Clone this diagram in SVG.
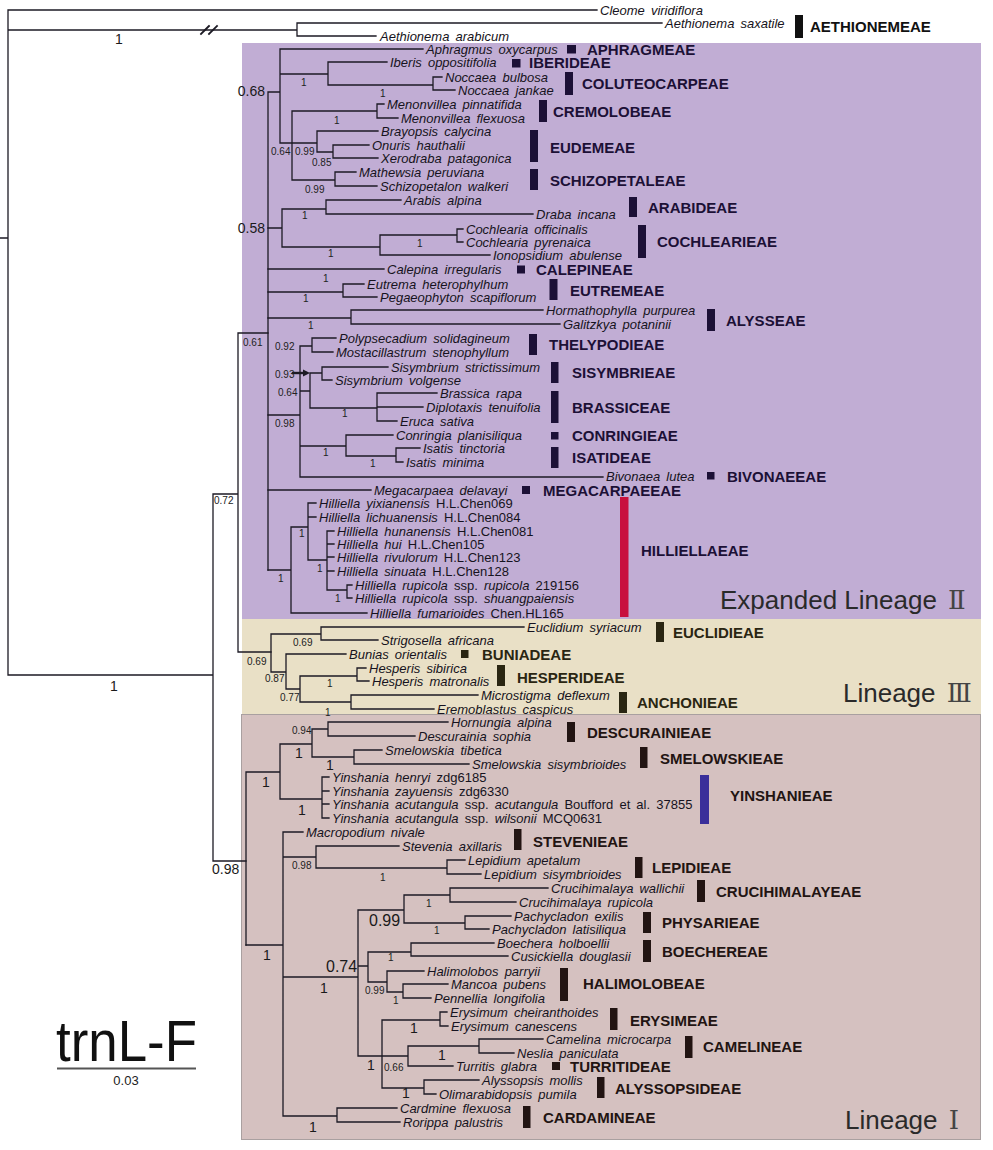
<svg xmlns="http://www.w3.org/2000/svg" width="993" height="1150" viewBox="0 0 993 1150">
<style>
.c{fill:none;stroke:#1c1a24;stroke-width:1.3;stroke-linecap:square}
.t{font-family:"Liberation Sans",Arial,sans-serif;font-size:13px;font-style:italic;word-spacing:2.5px;fill:#161320}
.n{font-style:normal}
.tb{font-family:"Liberation Sans",Arial,sans-serif;font-size:15px;font-weight:bold}
.k0{fill:#111}
.k2{fill:#1c1036}
.k3{fill:#2a2612}
.k1{fill:#221412}
.s{font-family:"Liberation Sans",Arial,sans-serif;font-size:10px;fill:#222}
.m{font-family:"Liberation Sans",Arial,sans-serif;font-size:14px;fill:#1a1a1a}
.g{font-family:"Liberation Sans",Arial,sans-serif;font-size:16px;fill:#1a1a1a}
.lin{font-family:"Liberation Sans",Arial,sans-serif;font-size:26px;fill:#2a2a2a}
.rn{font-family:"DejaVu Serif","DejaVu Sans","Noto Sans CJK SC",serif;fill:#444}
</style>
<rect width="993" height="1150" fill="#ffffff"/>
<g id="panels">
<rect x="242" y="43" width="739" height="576" fill="#c1add4"/>
<rect x="242" y="619" width="739" height="95" fill="#e9e0c6"/>
<rect x="241.5" y="714.5" width="739" height="425" fill="#d5c1c0" stroke="#a9a0a0" stroke-width="1"/>
</g>
<g id="connectors" class="c">
<path d="M0 238H8 M8 10V675 M8 10H597 M8 30H297 M297 23V36 M297 23H662 M297 36H376 M8 675H213 M213 494V861 M213 494H238 M238 333V652 M238 333H268 M238 652H271 M213 861H246"/>
<path d="M201 34L209 26 M209 34L217 26" stroke-width="1.8"/>
<path d="M268 92V570 M268 92H280 M280 49V143 M280 49H423 M280 74H328 M328 62V85 M328 62H387 M328 85H433 M433 77V90 M433 77H442 M433 90H455 M280 143H292 M292 111V180 M292 111H377 M377 104V118 M377 104H384 M377 118H398 M292 143H317 M317 131V152 M317 131H378 M317 152H333 M333 145V158 M333 145H369 M333 158H378 M292 180H335 M335 172V186 M335 172H356 M335 186H377"/>
<path d="M268 228H282 M282 209V247 M282 209H326 M326 200V214 M326 200H401 M326 214H533 M282 247H380 M380 235V255 M380 235H457 M457 229V242 M457 229H463 M457 242H463 M380 255H490 M268 269H384 M268 292H343 M343 284V297 M343 284H364 M343 297H377 M268 318H351 M351 310V324 M351 310H543 M351 324H560"/>
<path d="M268 415H300 M300 346V477 M300 346H312 M312 338V352 M312 338H336 M312 352H333 M300 391H310 M310 373V408 M310 373H322 M322 367V380 M322 367H388 M322 380H332 M310 408H377 M377 393V421 M377 393H437 M377 407H423 M377 421H397 M300 446H346 M346 435V456 M346 435H393 M346 456H396 M396 448V462 M396 448H420 M396 462H403 M300 477H603 M268 490H371"/>
<path d="M293 373H304" stroke-width="2.4"/>
<polygon points="303,369.5 310,373 303,376.5" fill="#1c1a24" stroke="none"/>
<path d="M268 570H291 M291 527V613 M291 613H367 M291 527H308 M308 503V560 M308 503H316 M308 517H316 M308 560H327 M327 531V590 M327 531H334 M327 544H334 M327 557H334 M327 571H334 M327 590H347 M347 585V598 M347 585H352 M347 598H352"/>
<path d="M271 634V672 M271 634H321 M321 627V640 M321 627H524 M321 640H378 M271 672H286 M286 654V689 M286 654H346 M286 689H300 M300 676V702 M300 676H357 M357 668V681 M357 668H366 M357 681H369 M300 702H351 M351 695V709 M351 695H478 M351 709H434"/>
<path d="M246 772V945 M246 772H280 M280 744V799 M280 744H312 M312 729V757 M312 729H328 M328 722V736 M328 722H448 M328 736H415 M312 757H354 M354 750V764 M354 750H382 M354 764H469 M280 799H322 M322 777V818 M322 777H329 M322 791H329 M322 804H329 M322 818H329"/>
<path d="M246 945H283 M283 832V1116 M283 832H303 M283 857H316 M316 846V868 M316 846H399 M316 868H447 M447 860V874 M447 860H465 M447 874H481 M283 977H358 M358 910V1056 M358 910H404 M404 895V923 M404 895H450 M450 888V902 M450 888H548 M450 902H516 M404 923H465 M465 916V929 M465 916H511 M465 929H489 M358 966H368 M368 952V982 M368 952H411 M411 943V956 M411 943H494 M411 956H508 M368 982H387 M387 971V992 M387 971H424 M387 992H403 M403 984V998 M403 984H448 M403 998H431 M358 1056H408 M382 1020V1088 M382 1020H440 M440 1012V1026 M440 1012H447 M440 1026H448 M408 1046V1066 M408 1046H479 M479 1039V1053 M479 1039H543 M479 1053H514 M408 1066H453 M382 1088H424 M424 1080V1094 M424 1080H479 M424 1094H436 M283 1116H337 M337 1108V1122 M337 1108H397 M337 1122H400"/>
</g>
<g id="support">
<text class="m" x="115" y="44">1</text>
<text class="m" x="110" y="691">1</text>
<text class="s" x="214" y="504">0.72</text>
<text class="s" x="243" y="346">0.61</text>
<text class="s" x="247" y="665">0.69</text>
<text class="m" x="212" y="874">0.98</text>
<text class="m" x="265" y="96" text-anchor="end">0.68</text>
<text class="m" x="265" y="233" text-anchor="end">0.58</text>
<text class="s" x="301" y="86">1</text>
<text class="s" x="380" y="97">1</text>
<text class="s" x="334" y="124">1</text>
<text class="s" x="271" y="155">0.64</text>
<text class="s" x="295" y="155">0.99</text>
<text class="s" x="312" y="166">0.85</text>
<text class="s" x="305" y="193">0.99</text>
<text class="s" x="302" y="219">1</text>
<text class="s" x="417" y="247">1</text>
<text class="s" x="328" y="257">1</text>
<text class="s" x="323" y="282">1</text>
<text class="s" x="303" y="302">1</text>
<text class="s" x="308" y="329">1</text>
<text class="s" x="275" y="350">0.92</text>
<text class="s" x="275" y="378">0.93</text>
<text class="s" x="278" y="396">0.64</text>
<text class="s" x="342" y="417">1</text>
<text class="s" x="275" y="427">0.98</text>
<text class="s" x="323" y="456">1</text>
<text class="s" x="370" y="467">1</text>
<text class="s" x="299" y="537">1</text>
<text class="s" x="317" y="572">1</text>
<text class="s" x="278" y="582">1</text>
<text class="s" x="335" y="602">1</text>
<text class="s" x="293" y="646">0.69</text>
<text class="s" x="265" y="682">0.87</text>
<text class="s" x="280" y="701">0.77</text>
<text class="s" x="327" y="687">1</text>
<text class="s" x="325" y="716">1</text>
<text class="s" x="292" y="734">0.94</text>
<text class="m" x="295" y="758">1</text>
<text class="m" x="326" y="770">1</text>
<text class="m" x="262" y="787">1</text>
<text class="m" x="298" y="815">1</text>
<text class="s" x="292" y="869">0.98</text>
<text class="s" x="380" y="881">1</text>
<text class="s" x="426" y="907">1</text>
<text class="s" x="434" y="934">1</text>
<text class="g" x="369" y="926">0.99</text>
<text class="g" x="326" y="972">0.74</text>
<text class="m" x="263" y="960">1</text>
<text class="s" x="388" y="961">1</text>
<text class="m" x="320" y="993">1</text>
<text class="s" x="365" y="994">0.99</text>
<text class="s" x="393" y="1004">1</text>
<text class="m" x="410" y="1033">1</text>
<text class="m" x="438" y="1060">1</text>
<text class="m" x="367" y="1070">1</text>
<text class="s" x="384" y="1071">0.66</text>
<text class="m" x="402" y="1098">1</text>
<text class="m" x="309" y="1132">1</text>
</g>
<g id="taxa">
<g id="t01"><text class="t" x="600" y="14.5">Cleome viridiflora</text></g>
<g id="t02"><text class="t" x="665" y="27.5">Aethionema saxatile</text></g>
<g id="t03"><text class="t" x="380" y="40.5">Aethionema arabicum</text></g>
<g id="t04"><text class="t" x="426" y="53.5">Aphragmus oxycarpus</text></g>
<g id="t05"><text class="t" x="390" y="66.5">Iberis oppositifolia</text></g>
<g id="t06"><text class="t" x="445" y="81.5">Noccaea bulbosa</text></g>
<g id="t07"><text class="t" x="458" y="94.5">Noccaea jankae</text></g>
<g id="t08"><text class="t" x="387" y="108.5">Menonvillea pinnatifida</text></g>
<g id="t09"><text class="t" x="401" y="122.5">Menonvillea flexuosa</text></g>
<g id="t10"><text class="t" x="381" y="135.5">Brayopsis calycina</text></g>
<g id="t11"><text class="t" x="372" y="149.5">Onuris hauthalii</text></g>
<g id="t12"><text class="t" x="381" y="162.5">Xerodraba patagonica</text></g>
<g id="t13"><text class="t" x="359" y="176.5">Mathewsia peruviana</text></g>
<g id="t14"><text class="t" x="380" y="190.5">Schizopetalon walkeri</text></g>
<g id="t15"><text class="t" x="404" y="204.5">Arabis alpina</text></g>
<g id="t16"><text class="t" x="536" y="218.5">Draba incana</text></g>
<g id="t17"><text class="t" x="466" y="233.5">Cochlearia officinalis</text></g>
<g id="t18"><text class="t" x="466" y="246.5">Cochlearia pyrenaica</text></g>
<g id="t19"><text class="t" x="493" y="259.5">Ionopsidium abulense</text></g>
<g id="t20"><text class="t" x="387" y="273.5">Calepina irregularis</text></g>
<g id="t21"><text class="t" x="367" y="288.5">Eutrema heterophylhum</text></g>
<g id="t22"><text class="t" x="380" y="301.5">Pegaeophyton scapiflorum</text></g>
<g id="t23"><text class="t" x="546" y="314.5">Hormathophylla purpurea</text></g>
<g id="t24"><text class="t" x="563" y="328.5">Galitzkya potaninii</text></g>
<g id="t25"><text class="t" x="339" y="342.5">Polypsecadium solidagineum</text></g>
<g id="t26"><text class="t" x="336" y="356.5">Mostacillastrum stenophyllum</text></g>
<g id="t27"><text class="t" x="391" y="371.5">Sisymbrium strictissimum</text></g>
<g id="t28"><text class="t" x="335" y="384.5">Sisymbrium volgense</text></g>
<g id="t29"><text class="t" x="440" y="397.5">Brassica rapa</text></g>
<g id="t30"><text class="t" x="426" y="411.5">Diplotaxis tenuifolia</text></g>
<g id="t31"><text class="t" x="400" y="425.5">Eruca sativa</text></g>
<g id="t32"><text class="t" x="396" y="439.5">Conringia planisiliqua</text></g>
<g id="t33"><text class="t" x="423" y="452.5">Isatis tinctoria</text></g>
<g id="t34"><text class="t" x="406" y="466.5">Isatis minima</text></g>
<g id="t35"><text class="t" x="606" y="480.5">Bivonaea lutea</text></g>
<g id="t36"><text class="t" x="374" y="494.5">Megacarpaea delavayi</text></g>
<g id="t37"><text class="t" x="319" y="507.5">Hilliella yixianensis <tspan class="n">H.L.Chen069</tspan></text></g>
<g id="t38"><text class="t" x="319" y="521.5">Hilliella lichuanensis <tspan class="n">H.L.Chen084</tspan></text></g>
<g id="t39"><text class="t" x="337" y="535.5">Hilliella hunanensis <tspan class="n">H.L.Chen081</tspan></text></g>
<g id="t40"><text class="t" x="337" y="548.5">Hilliella hui <tspan class="n">H.L.Chen105</tspan></text></g>
<g id="t41"><text class="t" x="337" y="561.5">Hilliella rivulorum <tspan class="n">H.L.Chen123</tspan></text></g>
<g id="t42"><text class="t" x="337" y="575.5">Hilliella sinuata <tspan class="n">H.L.Chen128</tspan></text></g>
<g id="t43"><text class="t" x="355" y="589.5">Hilliella rupicola <tspan class="n">ssp.</tspan> rupicola <tspan class="n">219156</tspan></text></g>
<g id="t44"><text class="t" x="355" y="602.5">Hilliella rupicola <tspan class="n">ssp.</tspan> shuangpaiensis</text></g>
<g id="t45"><text class="t" x="370" y="617.5">Hilliella fumarioides <tspan class="n">Chen.HL165</tspan></text></g>
<g id="t46"><text class="t" x="527" y="631.5">Euclidium syriacum</text></g>
<g id="t47"><text class="t" x="381" y="644.5">Strigosella africana</text></g>
<g id="t48"><text class="t" x="349" y="658.5">Bunias orientalis</text></g>
<g id="t49"><text class="t" x="369" y="672.5">Hesperis sibirica</text></g>
<g id="t50"><text class="t" x="372" y="685.5">Hesperis matronalis</text></g>
<g id="t51"><text class="t" x="481" y="699.5">Microstigma deflexum</text></g>
<g id="t52"><text class="t" x="437" y="713.5">Eremoblastus caspicus</text></g>
<g id="t53"><text class="t" x="451" y="726.5">Hornungia alpina</text></g>
<g id="t54"><text class="t" x="418" y="740.5">Descurainia sophia</text></g>
<g id="t55"><text class="t" x="385" y="754.5">Smelowskia tibetica</text></g>
<g id="t56"><text class="t" x="472" y="768.5">Smelowskia sisymbrioides</text></g>
<g id="t57"><text class="t" x="332" y="782">Yinshania henryi <tspan class="n">zdg6185</tspan></text></g>
<g id="t58"><text class="t" x="332" y="795.5">Yinshania zayuensis <tspan class="n">zdg6330</tspan></text></g>
<g id="t59"><text class="t" x="332" y="808.5">Yinshania acutangula <tspan class="n">ssp.</tspan> acutangula <tspan class="n">Boufford et al. 37855</tspan></text></g>
<g id="t60"><text class="t" x="332" y="822.5">Yinshania acutangula <tspan class="n">ssp.</tspan> wilsonii <tspan class="n">MCQ0631</tspan></text></g>
<g id="t61"><text class="t" x="306" y="836.5">Macropodium nivale</text></g>
<g id="t62"><text class="t" x="402" y="850.5">Stevenia axillaris</text></g>
<g id="t63"><text class="t" x="468" y="864.5">Lepidium apetalum</text></g>
<g id="t64"><text class="t" x="484" y="878.5">Lepidium sisymbrioides</text></g>
<g id="t65"><text class="t" x="551" y="892.5">Crucihimalaya wallichii</text></g>
<g id="t66"><text class="t" x="519" y="906.5">Crucihimalaya rupicola</text></g>
<g id="t67"><text class="t" x="514" y="920.5">Pachycladon exilis</text></g>
<g id="t68"><text class="t" x="492" y="933.5">Pachycladon latisiliqua</text></g>
<g id="t69"><text class="t" x="497" y="947.5">Boechera holboellii</text></g>
<g id="t70"><text class="t" x="511" y="960.5">Cusickiella douglasii</text></g>
<g id="t71"><text class="t" x="427" y="975.5">Halimolobos parryii</text></g>
<g id="t72"><text class="t" x="451" y="988.5">Mancoa pubens</text></g>
<g id="t73"><text class="t" x="434" y="1002.5">Pennellia longifolia</text></g>
<g id="t74"><text class="t" x="450" y="1016.5">Erysimum cheiranthoides</text></g>
<g id="t75"><text class="t" x="451" y="1030.5">Erysimum canescens</text></g>
<g id="t76"><text class="t" x="546" y="1043.5">Camelina microcarpa</text></g>
<g id="t77"><text class="t" x="517" y="1057.5">Neslia paniculata</text></g>
<g id="t78"><text class="t" x="456" y="1070.5">Turritis glabra</text></g>
<g id="t79"><text class="t" x="482" y="1084.5">Alyssopsis mollis</text></g>
<g id="t80"><text class="t" x="439" y="1098.5">Olimarabidopsis pumila</text></g>
<g id="t81"><text class="t" x="400" y="1113">Cardmine flexuosa</text></g>
<g id="t82"><text class="t" x="403" y="1126.5">Rorippa palustris</text></g>
</g>
<g id="tribes">
<g id="tr-aethionemeae"><rect x="795" y="15" width="8" height="23" class="k0"/><text class="tb k0" x="810" y="32">AETHIONEMEAE</text></g>
<g id="tr-aphragmeae"><rect x="567" y="45" width="9" height="8.5" class="k2"/><text class="tb k2" x="587" y="54.5">APHRAGMEAE</text></g>
<g id="tr-iberideae"><rect x="512" y="59" width="8.5" height="8.5" class="k2"/><text class="tb k2" x="529" y="68">IBERIDEAE</text></g>
<g id="tr-coluteocarpeae"><rect x="565" y="72" width="8" height="23" class="k2"/><text class="tb k2" x="582" y="88.5">COLUTEOCARPEAE</text></g>
<g id="tr-cremolobeae"><rect x="539" y="100" width="8" height="22" class="k2"/><text class="tb k2" x="553" y="116.5">CREMOLOBEAE</text></g>
<g id="tr-eudemeae"><rect x="530" y="130" width="8" height="32" class="k2"/><text class="tb k2" x="550" y="152.5">EUDEMEAE</text></g>
<g id="tr-schizopetaleae"><rect x="530" y="169" width="8" height="21" class="k2"/><text class="tb k2" x="550" y="185.5">SCHIZOPETALEAE</text></g>
<g id="tr-arabideae"><rect x="629" y="197" width="8" height="20" class="k2"/><text class="tb k2" x="648" y="212.5">ARABIDEAE</text></g>
<g id="tr-cochlearieae"><rect x="638" y="225" width="8" height="33" class="k2"/><text class="tb k2" x="657" y="246.5">COCHLEARIEAE</text></g>
<g id="tr-calepineae"><rect x="517" y="265.5" width="8" height="8" class="k2"/><text class="tb k2" x="536" y="274.5">CALEPINEAE</text></g>
<g id="tr-eutremeae"><rect x="549.5" y="279" width="8" height="21" class="k2"/><text class="tb k2" x="570" y="295.5">EUTREMEAE</text></g>
<g id="tr-alysseae"><rect x="707" y="309" width="8" height="22" class="k2"/><text class="tb k2" x="726" y="325.5">ALYSSEAE</text></g>
<g id="tr-thelypodieae"><rect x="529" y="334" width="8" height="21" class="k2"/><text class="tb k2" x="549" y="349.5">THELYPODIEAE</text></g>
<g id="tr-sisymbrieae"><rect x="551" y="362" width="7.5" height="21" class="k2"/><text class="tb k2" x="572" y="377.5">SISYMBRIEAE</text></g>
<g id="tr-brassiceae"><rect x="551" y="391" width="7.5" height="32" class="k2"/><text class="tb k2" x="572" y="412.5">BRASSICEAE</text></g>
<g id="tr-conringieae"><rect x="551" y="432" width="7.5" height="7.5" class="k2"/><text class="tb k2" x="572" y="440.5">CONRINGIEAE</text></g>
<g id="tr-isatideae"><rect x="551" y="447" width="7.5" height="21" class="k2"/><text class="tb k2" x="572" y="462.5">ISATIDEAE</text></g>
<g id="tr-bivonaeeae"><rect x="707" y="472" width="7.5" height="7.5" class="k2"/><text class="tb k2" x="727" y="481.5">BIVONAEEAE</text></g>
<g id="tr-megacarpaeeae"><rect x="522" y="486" width="8" height="8" class="k2"/><text class="tb k2" x="543" y="495.5">MEGACARPAEEAE</text></g>
<g id="tr-hilliellaeae"><rect x="620" y="497" width="8.5" height="120" fill="#c8103e"/><text class="tb k2" x="641" y="555.5">HILLIELLAEAE</text></g>
<g id="tr-euclidieae"><rect x="656" y="622" width="8" height="20" class="k3"/><text class="tb k3" x="673" y="637.5">EUCLIDIEAE</text></g>
<g id="tr-buniadeae"><rect x="461" y="650" width="7.5" height="8" class="k3"/><text class="tb k3" x="482" y="659.5">BUNIADEAE</text></g>
<g id="tr-hesperideae"><rect x="497" y="665" width="8" height="21" class="k3"/><text class="tb k3" x="517" y="682.5">HESPERIDEAE</text></g>
<g id="tr-anchonieae"><rect x="619" y="692" width="8" height="21" class="k3"/><text class="tb k3" x="637" y="707.5">ANCHONIEAE</text></g>
<g id="tr-descurainieae"><rect x="567" y="722" width="8" height="20" class="k1"/><text class="tb k1" x="587" y="737.5">DESCURAINIEAE</text></g>
<g id="tr-smelowskieae"><rect x="640" y="747" width="7.5" height="21" class="k1"/><text class="tb k1" x="660" y="763.5">SMELOWSKIEAE</text></g>
<g id="tr-yinshanieae"><rect x="700" y="775" width="9" height="49" fill="#3a2f9a"/><text class="tb k1" x="730" y="800.5">YINSHANIEAE</text></g>
<g id="tr-stevenieae"><rect x="514" y="829" width="7.5" height="21" class="k1"/><text class="tb k1" x="533" y="846.5">STEVENIEAE</text></g>
<g id="tr-lepidieae"><rect x="635" y="857" width="7.5" height="21" class="k1"/><text class="tb k1" x="652" y="872.5">LEPIDIEAE</text></g>
<g id="tr-crucihimalayeae"><rect x="697" y="880" width="8" height="22" class="k1"/><text class="tb k1" x="716" y="896.5">CRUCIHIMALAYEAE</text></g>
<g id="tr-physarieae"><rect x="643" y="912" width="8" height="21" class="k1"/><text class="tb k1" x="662" y="927.5">PHYSARIEAE</text></g>
<g id="tr-boechereae"><rect x="643" y="940" width="8" height="22" class="k1"/><text class="tb k1" x="662" y="956.5">BOECHEREAE</text></g>
<g id="tr-halimolobeae"><rect x="560" y="968" width="8" height="33" class="k1"/><text class="tb k1" x="583" y="988.5">HALIMOLOBEAE</text></g>
<g id="tr-erysimeae"><rect x="610" y="1008" width="7.5" height="22" class="k1"/><text class="tb k1" x="630" y="1025.5">ERYSIMEAE</text></g>
<g id="tr-camelineae"><rect x="685" y="1036" width="7.5" height="22" class="k1"/><text class="tb k1" x="703" y="1051.5">CAMELINEAE</text></g>
<g id="tr-turritideae"><rect x="552" y="1062" width="8" height="8" class="k1"/><text class="tb k1" x="570" y="1071.5">TURRITIDEAE</text></g>
<g id="tr-alyssopsideae"><rect x="597" y="1077" width="7.5" height="21" class="k1"/><text class="tb k1" x="615" y="1093.5">ALYSSOPSIDEAE</text></g>
<g id="tr-cardamineae"><rect x="523" y="1106" width="7.5" height="22" class="k1"/><text class="tb k1" x="543" y="1122.5">CARDAMINEAE</text></g>
</g>
<g id="lineages">
<text class="lin" x="720" y="609">Expanded Lineage <tspan class="rn" dx="4">Ⅱ</tspan></text>
<text class="lin" x="843" y="702">Lineage <tspan class="rn" dx="4">Ⅲ</tspan></text>
<text class="lin" x="845" y="1129">Lineage <tspan class="rn" dx="4">Ⅰ</tspan></text>
</g>
<g id="scale">
<text x="56" y="1061" font-family="Liberation Sans, Arial, sans-serif" font-size="58" fill="#111" textLength="141" lengthAdjust="spacingAndGlyphs">trnL-F</text>
<line x1="57" y1="1068.5" x2="196" y2="1068.5" stroke="#555" stroke-width="1.8"/>
<text x="126" y="1085" font-family="Liberation Sans, Arial, sans-serif" font-size="13" fill="#222" text-anchor="middle">0.03</text>
</g>
</svg>
